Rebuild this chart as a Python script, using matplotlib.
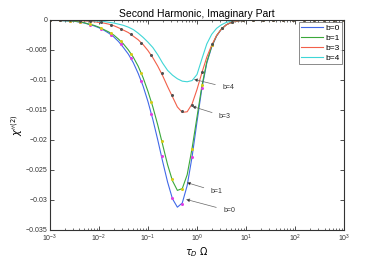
import numpy as np
import matplotlib
matplotlib.use("Agg")
import matplotlib.pyplot as plt

# smooth curves, read on a 0.1-decade grid (log10 of tau_D*Omega)
log_x = [-3.0, -2.5, -2.4, -2.3, -2.2, -2.1, -2.0, -1.9, -1.8, -1.7, -1.6,
         -1.5, -1.4, -1.3, -1.2, -1.1, -1.0, -0.9, -0.8, -0.7, -0.6, -0.5,
         -0.4, -0.3, -0.2, -0.1, 0.0, 0.1, 0.2, 0.3, 0.4, 0.5, 0.6, 0.7,
         0.8, 0.9, 1.0, 3.0]
b0_line = [-0.00002, -0.00022, -0.00035, -0.0005, -0.00075, -0.00098, -0.0013,
           -0.0017, -0.0022, -0.0028, -0.0036, -0.0046, -0.0057, -0.0071,
           -0.0089, -0.0110, -0.0136, -0.0166, -0.0200, -0.0236, -0.0270,
           -0.0298, -0.0312, -0.0305, -0.0276, -0.0228, -0.0170, -0.0114,
           -0.0072, -0.0045, -0.0027, -0.0015, -0.0008, -0.0004, -0.0002,
           -0.0001, -0.00004, 0.0]
b1_line = [-0.00002, -0.0002, -0.00032, -0.00047, -0.0007, -0.0009, -0.0012,
           -0.0016, -0.0020, -0.0025, -0.0032, -0.0040, -0.0050, -0.0062,
           -0.0077, -0.0096, -0.0119, -0.0145, -0.0175, -0.0208, -0.0241,
           -0.0268, -0.0284, -0.0281, -0.0258, -0.0214, -0.0162, -0.0110,
           -0.0070, -0.0044, -0.0026, -0.0015, -0.0008, -0.0004, -0.0002,
           -0.0001, -0.00004, 0.0]
b3_line = [-0.00001, -0.0001, -0.00013, -0.00017, -0.00022, -0.0003, -0.0004,
           -0.00052, -0.0007, -0.00095, -0.0013, -0.0017, -0.0021, -0.0027,
           -0.0033, -0.0041, -0.0051, -0.0063, -0.0077, -0.0093, -0.0111,
           -0.0128, -0.0145, -0.0154, -0.0153, -0.0140, -0.0116, -0.0088,
           -0.0062, -0.0042, -0.0026, -0.0015, -0.0008, -0.0004, -0.0002,
           -0.0001, -0.00004, 0.0]
b4_line = [0.0, -0.00005, -0.00007, -0.0001, -0.00013, -0.00016, -0.0002,
           -0.00025, -0.0004, -0.0005, -0.0007, -0.0009, -0.0012, -0.0016,
           -0.0022, -0.0029, -0.0037, -0.0046, -0.0058, -0.0072, -0.0084,
           -0.0092, -0.0098, -0.0102, -0.0103, -0.0101, -0.0091, -0.0065,
           -0.0040, -0.0024, -0.0014, -0.0008, -0.0004, -0.0002, -0.0001,
           -0.00005, -0.00003, 0.0]

# sampled points (markers)
pts_x = [0.001, 0.00161, 0.00259, 0.00418, 0.00672, 0.0108, 0.0174, 0.0281,
         0.0452, 0.0728, 0.117, 0.189, 0.304, 0.489, 0.788, 1.27, 2.04, 3.29,
         5.30, 8.53, 13.7, 22.1, 35.6, 57.4, 92.4, 149, 240, 386, 621, 1000]
b0_pts = [-0.00002, -0.00005, -0.00017, -0.0004, -0.00083, -0.0015, -0.0025,
          -0.0040, -0.0064, -0.0101, -0.0156, -0.0227, -0.0296, -0.0307,
          -0.0228, -0.0113, -0.0042, -0.0013, -0.0003, -0.00005,
          0, 0, 0, 0, 0, 0, 0, 0, 0, 0]
b1_pts = [-0.00002, -0.00005, -0.00015, -0.00036, -0.00075, -0.0013, -0.0021,
          -0.0035, -0.0056, -0.0089, -0.0136, -0.0201, -0.0265, -0.0282,
          -0.0215, -0.0108, -0.0041, -0.0013, -0.0003, -0.00005,
          0, 0, 0, 0, 0, 0, 0, 0, 0, 0]
b3_pts = [-0.00001, -0.00003, -0.00007, -0.00013, -0.00023, -0.0004, -0.0008,
          -0.0015, -0.0024, -0.0038, -0.0059, -0.0088, -0.0125, -0.0152,
          -0.0141, -0.0087, -0.0040, -0.0013, -0.0003, -0.00003,
          0, 0, 0, 0, 0, 0, 0, 0, 0, 0]

y_ticks = [0, -0.005, -0.01, -0.015, -0.02, -0.025, -0.03, -0.035]
y_labels = ["0", "\u22120.005", "\u22120.01", "\u22120.015", "\u22120.02",
            "\u22120.025", "\u22120.03", "\u22120.035"]

plt.rcParams.update({
    "font.family": ["Liberation Sans", "DejaVu Sans"],
    "xtick.direction": "in", "ytick.direction": "in",
    "xtick.top": True, "ytick.right": True,
    "xtick.major.size": 3, "ytick.major.size": 3,
    "xtick.minor.size": 1.5,
    "axes.linewidth": 0.8, "axes.edgecolor": "#333333",
})

x = 10.0 ** np.array(log_x)

fig = plt.figure(figsize=(3.81, 2.59), dpi=100)
ax = fig.add_axes([0.131, 0.112, 0.772, 0.811])

ax.plot(x, b0_line, color="#4169e8", lw=0.8, label="b=0")
ax.plot(x, b1_line, color="#3aa83a", lw=0.8, label="b=1")
ax.plot(x, b3_line, color="#f2604a", lw=0.8, label="b=3")
ax.plot(x, b4_line, color="#3fd6d6", lw=0.8, label="b=4")

ax.plot(pts_x, b0_pts, "o", color="#e040e0", ms=2.2, mew=0)
ax.plot(pts_x, b1_pts, "o", color="#d4cc18", ms=2.2, mew=0)
ax.plot(pts_x, b3_pts, "o", color="#505050", ms=2.2, mew=0)

ax.set_xscale("log")
ax.set_xlim(1e-3, 1e3)
ax.set_ylim(-0.035, 0)
ax.set_yticks(y_ticks)
ax.set_yticklabels(y_labels)
ax.tick_params(labelsize=5, width=0.6, colors="#333333", pad=2)
ax.tick_params(which="minor", width=0.4)

ax.set_title("Second Harmonic, Imaginary Part", fontsize=7.5, pad=2)
ax.set_xlabel(r"$\tau_D\ \Omega$", fontsize=7, labelpad=1)
ax.set_ylabel(r"$\chi''^{(2)}$", fontsize=7, labelpad=0)

arrows = [("b=4", (0.87, -0.0099), (4.3, -0.0113)),
          ("b=3", (0.80, -0.0144), (3.7, -0.0161)),
          ("b=1", (0.62, -0.0271), (2.5, -0.0286)),
          ("b=0", (0.60, -0.0299), (4.5, -0.0318))]
for txt, tip, pos in arrows:
    ax.annotate(txt, xy=tip, xytext=pos, fontsize=5, va="center",
                ha="center", color="#333333",
                arrowprops=dict(arrowstyle="-|>", color="#666666", lw=0.5,
                                mutation_scale=5, shrinkA=3, shrinkB=0,
                                fc="black", ec="#666666"))

leg = ax.legend(loc="upper right", fontsize=6, frameon=True, fancybox=False,
                edgecolor="#333333", borderpad=0.3, labelspacing=0.25,
                handlelength=2.6, handletextpad=0.3, borderaxespad=0.2)
leg.get_frame().set_linewidth(0.5)

fig.savefig("out.png", dpi=100)
